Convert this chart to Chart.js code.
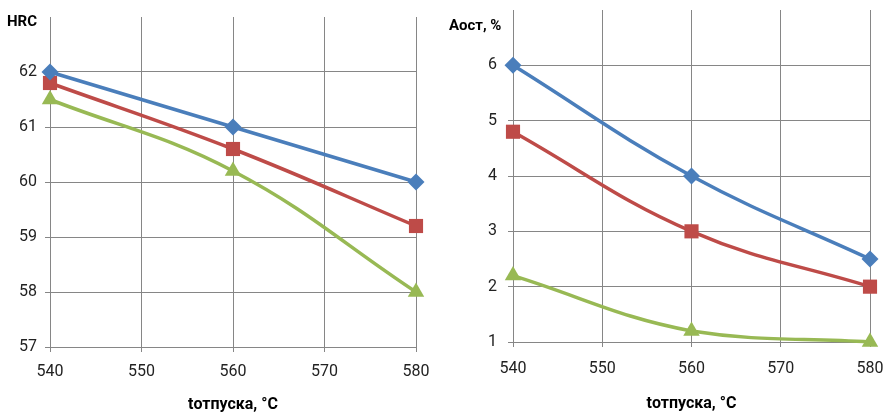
<!DOCTYPE html>
<html lang="ru">
<head>
    <meta charset="UTF-8">
    <title>HRC и Аост от температуры отпуска</title>
    <script src="https://cdn.jsdelivr.net/npm/chart.js"></script>
    <style>
        body {
            margin: 0;
            padding: 0;
            background: #fff;
        }
        .wrap {
            position: relative;
            width: 885px;
            height: 416px;
        }
        #hrcChart {
            position: absolute;
            left: 0;
            top: 0;
        }
        #austChart {
            position: absolute;
            left: 440px;
            top: 0;
        }
    </style>
</head>
<body>
    <div class="wrap">
        <canvas id="hrcChart" width="440" height="416"></canvas>
        <canvas id="austChart" width="445" height="416"></canvas>
    </div>

    <script>
        // data
        const temps = [540, 560, 580];
        const hrcBlue = [62, 61, 60];
        const hrcRed = [61.8, 60.6, 59.2];
        const hrcGreen = [61.5, 60.2, 58.0];
        const austBlue = [6, 4, 2.5];
        const austRed = [4.8, 3, 2];
        const austGreen = [2.2, 1.2, 1.0];

        const xTitle = 'tотпуска, °C';
        const blue = '#4a7ebb';
        const red = '#be4b48';
        const green = '#98b954';
        const gridColor = '#868686';
        const tickFont = { family: "Roboto, 'DejaVu Sans Condensed', sans-serif", size: 16 };
        const titleFont = { family: "Roboto, 'DejaVu Sans Condensed', sans-serif", size: 16, weight: 'bold' };

        function points(xs, ys) {
            return xs.map((x, i) => ({ x: x, y: ys[i] }));
        }

        function series(values, color, style, radius) {
            return {
                data: points(temps, values),
                borderColor: color,
                backgroundColor: color,
                borderWidth: 3.5,
                pointStyle: style,
                pointRadius: radius,
                pointBorderWidth: 0,
                tension: 0.4,
                clip: false
            };
        }

        // horizontal axis title drawn at top-left of the value axis
        const yTitlePlugin = {
            id: 'yTitle',
            afterDraw(chart, args, opts) {
                const ctx = chart.ctx;
                ctx.save();
                ctx.font = "bold 15px Roboto, 'DejaVu Sans Condensed', sans-serif";
                ctx.fillStyle = '#000';
                ctx.textBaseline = 'middle';
                ctx.textAlign = 'left';
                ctx.fillText(opts.text, opts.x, opts.y);
                ctx.restore();
            }
        };

        function makeChart(id, sets, yMin, yMax, geo) {
            return new Chart(document.getElementById(id), {
                type: 'line',
                data: { datasets: sets },
                plugins: [yTitlePlugin],
                options: {
                    responsive: false,
                    animation: false,
                    layout: { padding: { top: geo.top, right: geo.right, left: 0, bottom: 0 } },
                    plugins: {
                        legend: { display: false },
                        tooltip: { enabled: false },
                        yTitle: { text: geo.yTitle, x: geo.titleX, y: geo.titleY }
                    },
                    scales: {
                        x: {
                            type: 'linear',
                            min: 540,
                            max: 580,
                            ticks: { stepSize: 10, color: '#222', font: tickFont, padding: geo.xPad, maxRotation: 0 },
                            grid: { color: gridColor, lineWidth: 1, tickLength: 5 },
                            border: { color: gridColor, width: 1 },
                            title: { display: true, text: xTitle, color: '#000', font: titleFont, padding: { top: 0, bottom: geo.titlePad } },
                            afterFit(scale) {
                                scale.height = geo.xHeight;
                                scale.paddingLeft = 0;
                                scale.paddingRight = 0;
                            }
                        },
                        y: {
                            min: yMin,
                            max: yMax,
                            ticks: {
                                stepSize: 1,
                                color: '#222',
                                font: tickFont,
                                padding: geo.yPad,
                                callback: v => (v === yMax ? null : v)
                            },
                            grid: { color: gridColor, lineWidth: 1, tickLength: 5 },
                            border: { color: gridColor, width: 1 },
                            afterFit(scale) {
                                scale.width = geo.yWidth;
                                scale.paddingTop = 0;
                                scale.paddingBottom = 0;
                            }
                        }
                    }
                }
            });
        }

        makeChart('hrcChart', [
            series(hrcBlue, blue, 'rectRot', 8.5),
            series(hrcRed, red, 'rect', 10),
            series(hrcGreen, green, 'triangle', 9.5)
        ], 57, 63, {
            top: 17, right: 24, yWidth: 50, xHeight: 69, yPad: 8, xPad: 10, titlePad: 1,
            yTitle: 'HRC', titleX: 7, titleY: 22
        });

        makeChart('austChart', [
            series(austBlue, blue, 'rectRot', 8.5),
            series(austRed, red, 'rect', 10),
            series(austGreen, green, 'triangle', 9.5)
        ], 1, 7, {
            top: 10, right: 15, yWidth: 73, xHeight: 74, yPad: 11, xPad: 12, titlePad: 2,
            yTitle: 'Аост, %', titleX: 9, titleY: 26
        });
    </script>
</body>
</html>
